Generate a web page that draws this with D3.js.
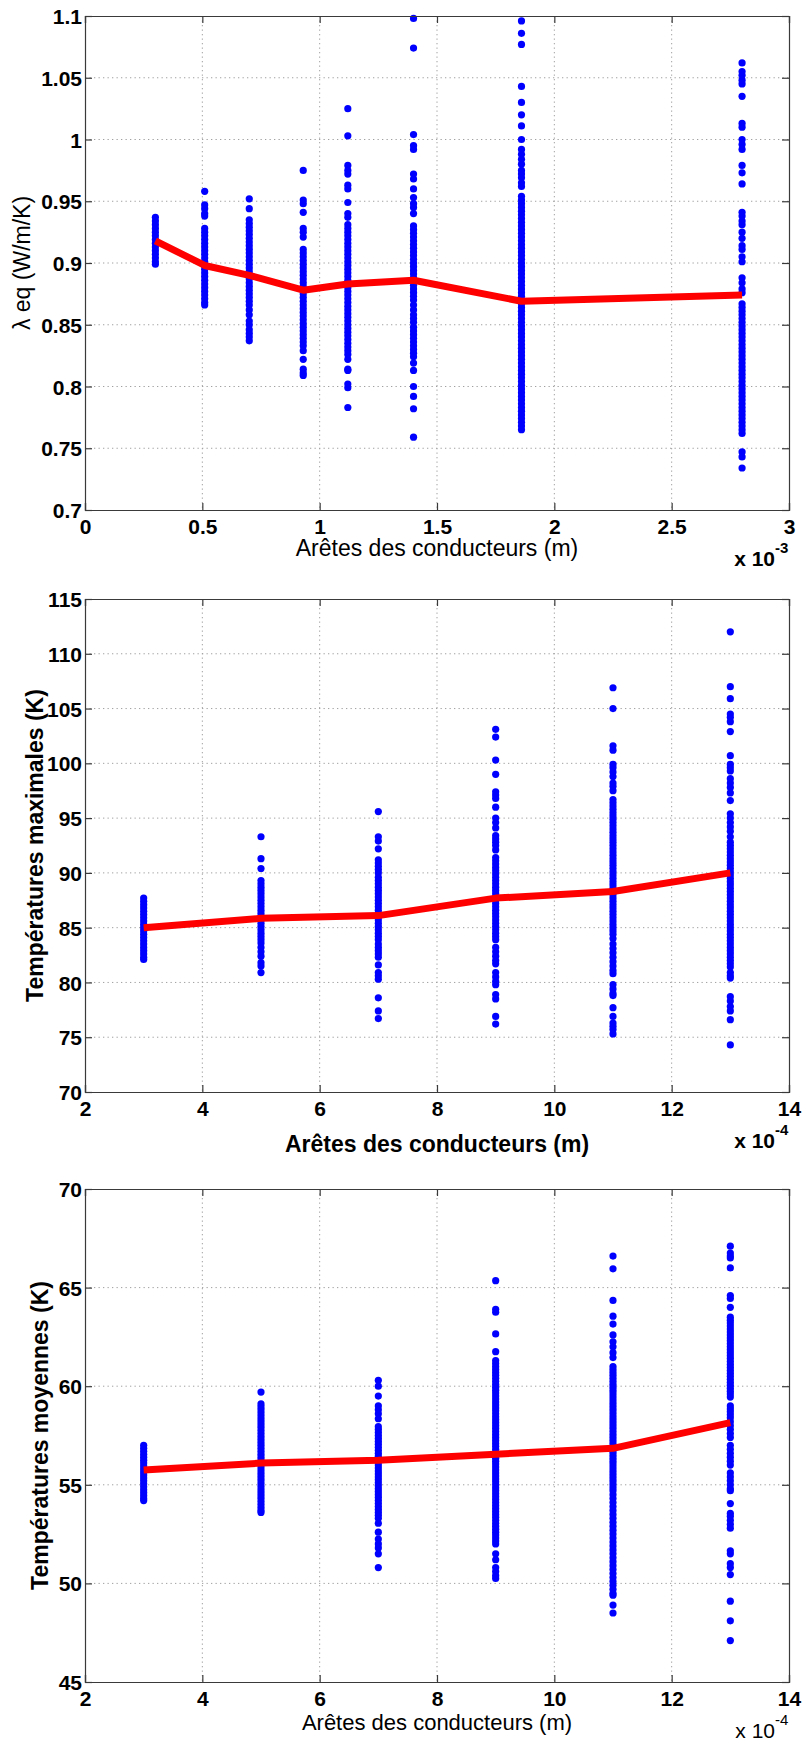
<!DOCTYPE html>
<html><head><meta charset="utf-8">
<script src="https://cdn.jsdelivr.net/npm/d3@7/dist/d3.min.js"></script>
<style>
html,body{margin:0;padding:0;background:#fff;}
text{font-family:"Liberation Sans",Arial,Helvetica,sans-serif;}
</style></head>
<body>
<svg id="fig" width="806" height="1745"></svg>
<script>
// ---------- Panel 1 : lambda eq vs edge (x 1e-3 m) ----------
const lamX = [0.30e-3, 0.51e-3, 0.70e-3, 0.93e-3, 1.12e-3, 1.40e-3, 1.86e-3, 2.80e-3];
const lamMean = [0.918, 0.898, 0.890, 0.878, 0.883, 0.886, 0.869, 0.874];
const lamPts = [
 [0.937,0.934,0.931,0.928,0.925,0.922,0.919,0.916,0.913,0.910,0.907,0.904,0.901,0.899],
 [0.958,0.947,0.944,0.940,0.938,0.928,0.925,0.922,0.919,0.916,0.913,0.910,0.907,0.904,0.901,0.898,0.895,0.892,0.889,0.886,0.883,0.880,0.877,0.874,0.871,0.868,0.866],
 [0.952,0.944,0.935,0.932,0.929,0.926,0.923,0.920,0.917,0.914,0.911,0.908,0.905,0.902,0.899,0.896,0.893,0.890,0.887,0.884,0.881,0.878,0.875,0.872,0.869,0.866,0.862,0.858,0.853,0.850,0.846,0.843,0.840,0.837],
 [0.975,0.951,0.948,0.941,0.928,0.925,0.921,0.911,0.908,0.905,0.902,0.899,0.896,0.893,0.890,0.887,0.884,0.881,0.878,0.875,0.872,0.869,0.866,0.863,0.860,0.857,0.854,0.851,0.848,0.845,0.842,0.839,0.836,0.833,0.829,0.822,0.814,0.811,0.809],
 [1.025,1.003,0.979,0.975,0.972,0.963,0.960,0.949,0.940,0.937,0.931,0.928,0.925,0.922,0.919,0.916,0.913,0.910,0.907,0.904,0.901,0.898,0.895,0.892,0.889,0.886,0.883,0.880,0.877,0.874,0.871,0.868,0.865,0.862,0.859,0.856,0.853,0.850,0.847,0.844,0.841,0.838,0.835,0.832,0.829,0.826,0.822,0.814,0.813,0.802,0.799,0.783],
 [1.098,1.074,1.004,0.995,0.992,0.972,0.968,0.960,0.953,0.948,0.945,0.940,0.930,0.927,0.924,0.921,0.918,0.915,0.912,0.909,0.906,0.903,0.900,0.897,0.894,0.891,0.888,0.885,0.882,0.879,0.876,0.873,0.870,0.866,0.862,0.858,0.855,0.852,0.848,0.845,0.842,0.839,0.836,0.833,0.830,0.827,0.824,0.819,0.813,0.800,0.792,0.782,0.759],
 [1.096,1.086,1.077,1.043,1.030,1.020,1.011,1.000,0.992,0.988,0.984,0.980,0.975,0.972,0.969,0.965,0.962,0.954,0.951,0.948,0.945,0.942,0.939,0.936,0.933,0.930,0.927,0.924,0.921,0.918,0.915,0.912,0.909,0.906,0.903,0.900,0.897,0.894,0.891,0.888,0.885,0.882,0.879,0.876,0.873,0.870,0.867,0.864,0.861,0.858,0.855,0.852,0.849,0.846,0.843,0.840,0.837,0.834,0.831,0.828,0.825,0.822,0.819,0.816,0.813,0.810,0.807,0.804,0.801,0.798,0.795,0.792,0.789,0.786,0.783,0.780,0.777,0.774,0.771,0.768,0.765],
 [1.062,1.055,1.052,1.048,1.045,1.035,1.013,1.010,1.000,0.996,0.992,0.979,0.973,0.964,0.941,0.938,0.934,0.931,0.925,0.920,0.914,0.911,0.905,0.901,0.888,0.884,0.879,0.876,0.867,0.864,0.861,0.858,0.855,0.852,0.849,0.846,0.843,0.840,0.837,0.834,0.831,0.828,0.825,0.822,0.819,0.816,0.813,0.810,0.807,0.804,0.801,0.798,0.795,0.792,0.789,0.786,0.783,0.780,0.777,0.774,0.771,0.768,0.765,0.762,0.747,0.743,0.734]
];
const lamXTicks = [0, 0.5e-3, 1.0e-3, 1.5e-3, 2.0e-3, 2.5e-3, 3.0e-3];
const lamXTickLabels = ["0","0.5","1","1.5","2","2.5","3"];
const lamYTicks = [0.7,0.75,0.8,0.85,0.9,0.95,1.0,1.05,1.1];
const lamYTickLabels = ["0.7","0.75","0.8","0.85","0.9","0.95","1","1.05","1.1"];

// ---------- Panel 2 : max temperatures vs edge (x 1e-4 m) ----------
const tX = [3e-4, 5e-4, 7e-4, 9e-4, 11e-4, 13e-4];
const tmaxMean = [85.0, 85.85, 86.1, 87.7, 88.3, 90.0];
const tmaxPts = [
 [87.7,87.4,87.1,86.8,86.5,86.2,85.9,85.6,85.3,85.0,84.7,84.4,84.1,83.8,83.5,83.2,82.9,82.6,82.3,82.1],
 [93.3,91.3,90.4,89.3,89.0,88.7,88.4,88.1,87.8,87.5,87.2,86.9,86.6,86.3,86.0,85.7,85.4,85.1,84.8,84.5,84.2,83.9,83.6,83.2,82.8,82.4,81.8,81.5,80.9],
 [95.6,93.3,92.9,92.2,91.2,90.9,90.6,90.3,90.0,89.6,89.3,89.0,88.7,88.4,88.1,87.8,87.5,87.2,86.9,86.6,86.3,86.0,85.7,85.4,85.1,84.8,84.5,84.2,83.9,83.5,83.2,82.9,82.6,82.3,81.6,80.9,80.6,80.3,78.6,77.4,76.7],
 [103.1,102.4,100.3,99.0,97.4,97.1,96.8,96.0,95.0,94.6,94.1,93.4,93.1,92.8,92.5,92.1,91.4,91.1,90.8,90.5,90.2,89.9,89.6,89.3,89.0,88.7,88.4,88.1,87.8,87.5,87.2,86.9,86.6,86.3,86.0,85.7,85.4,85.1,84.8,84.5,84.2,83.9,83.2,82.8,82.4,82.0,81.7,80.9,80.5,80.1,79.8,78.9,78.5,76.9,76.2],
 [106.9,105.0,101.6,101.2,99.9,99.6,99.2,98.8,98.2,97.9,97.5,96.7,96.4,96.1,95.8,95.5,95.2,94.9,94.6,94.3,94.0,93.7,93.4,93.1,92.8,92.5,92.2,91.9,91.6,91.3,91.0,90.7,90.4,90.1,89.8,89.5,89.2,88.9,88.6,88.3,88.0,87.7,87.4,87.1,86.8,86.5,86.2,85.9,85.6,85.3,85.0,84.7,84.4,84.0,83.5,83.1,82.7,82.3,81.9,81.5,81.1,80.8,79.8,79.4,79.0,78.8,77.7,76.9,76.3,76.0,75.7,75.3],
 [112.0,107.0,105.9,104.5,104.2,103.8,102.9,100.7,99.9,99.6,99.3,98.6,98.2,97.8,97.3,96.6,95.4,95.0,94.6,94.2,93.8,93.3,92.8,92.5,92.2,91.9,91.6,91.3,91.0,90.7,90.4,90.1,89.8,89.5,89.2,88.9,88.6,88.3,88.0,87.7,87.4,87.1,86.8,86.5,86.2,85.9,85.6,85.3,85.0,84.7,84.4,84.1,83.8,83.5,83.2,82.9,82.6,82.3,82.0,81.7,81.4,80.9,80.6,80.4,78.7,78.3,77.8,77.4,76.6,74.3]
];
const tXTicks = [2e-4, 4e-4, 6e-4, 8e-4, 10e-4, 12e-4, 14e-4];
const tXTickLabels = ["2","4","6","8","10","12","14"];
const tmaxYTicks = [70,75,80,85,90,95,100,105,110,115];

// ---------- Panel 3 : mean temperatures vs edge (x 1e-4 m) ----------
const tmoyMean = [55.75, 56.1, 56.25, 56.55, 56.85, 58.15];
const tmoyPts = [
 [57.0,56.85,56.7,56.55,56.4,56.25,56.1,55.95,55.8,55.65,55.5,55.35,55.2,55.05,54.9,54.75,54.6,54.45,54.3,54.2],
 [59.7,59.1,58.95,58.8,58.65,58.5,58.35,58.2,58.05,57.9,57.75,57.6,57.45,57.3,57.15,57.0,56.85,56.7,56.55,56.4,56.25,56.1,55.95,55.8,55.65,55.5,55.35,55.2,55.05,54.9,54.75,54.6,54.45,54.3,54.15,54.0,53.85,53.7,53.6],
 [60.3,60.0,59.5,59.0,58.8,58.6,58.35,57.95,57.8,57.65,57.5,57.35,57.2,57.05,56.9,56.75,56.6,56.45,56.3,56.15,56.0,55.85,55.7,55.55,55.4,55.25,55.1,54.95,54.8,54.65,54.5,54.35,54.2,54.05,53.9,53.75,53.6,53.45,53.3,53.05,52.6,52.25,52.0,51.8,51.5,50.8],
 [65.35,63.9,63.75,62.65,61.75,61.3,61.15,61.0,60.85,60.7,60.55,60.4,60.25,60.1,59.95,59.8,59.65,59.5,59.35,59.2,59.05,58.9,58.75,58.6,58.45,58.3,58.15,58.0,57.85,57.7,57.55,57.4,57.25,57.1,56.95,56.8,56.65,56.5,56.35,56.2,56.05,55.9,55.75,55.6,55.45,55.3,55.15,55.0,54.85,54.7,54.55,54.4,54.25,54.1,53.95,53.8,53.65,53.5,53.35,53.2,53.05,52.9,52.75,52.6,52.45,52.3,52.15,52.0,51.5,51.2,50.8,50.6,50.4,50.25],
 [66.6,65.95,64.35,63.55,63.15,62.6,62.25,62.0,61.7,61.45,61.0,60.85,60.7,60.55,60.4,60.25,60.1,59.95,59.8,59.65,59.5,59.35,59.2,59.05,58.9,58.75,58.6,58.45,58.3,58.15,58.0,57.85,57.7,57.55,57.4,57.25,57.1,56.95,56.8,56.65,56.5,56.35,56.2,56.05,55.9,55.75,55.6,55.45,55.3,55.15,55.0,54.85,54.7,54.5,54.3,54.1,53.9,53.7,53.5,53.3,53.1,52.9,52.7,52.5,52.3,52.1,51.9,51.7,51.5,51.3,51.1,50.9,50.7,50.5,50.3,50.1,49.9,49.7,49.5,49.4,48.9,48.5],
 [67.1,66.75,66.6,66.5,66.0,64.6,64.45,64.0,63.5,63.35,63.2,63.05,62.9,62.75,62.6,62.45,62.3,62.15,62.0,61.85,61.7,61.55,61.4,61.25,61.1,60.95,60.8,60.65,60.5,60.35,60.2,60.05,59.9,59.75,59.6,59.45,59.0,58.85,58.7,58.55,58.4,58.2,58.0,57.8,57.6,57.4,57.0,56.8,56.6,56.4,56.2,56.0,55.6,55.4,55.2,55.0,54.8,54.7,54.05,53.55,53.4,53.2,53.0,52.8,51.65,51.5,51.0,50.8,50.45,49.1,48.1,47.1]
];
const tmoyYTicks = [45,50,55,60,65,70];

const xLabelText = "Arêtes des conducteurs (m)";

// ---------- drawing ----------
const svg = d3.select("#fig");
const L = 85, R = 789;

function panel(o) {
  const g = svg.append("g");
  const x = d3.scaleLinear().domain(o.xDomain).range([L, R]);
  const y = d3.scaleLinear().domain(o.yDomain).range([o.bottom, o.top]);

  // grid
  g.append("g").selectAll("line").data(o.yTicks.slice(1, -1)).join("line")
    .attr("x1", L).attr("x2", R).attr("y1", d => y(d)).attr("y2", d => y(d))
    .attr("stroke", "#a0a0a0").attr("stroke-width", 1).attr("stroke-dasharray", "1.3,3.2");
  g.append("g").selectAll("line").data(o.xTicks.slice(1, -1)).join("line")
    .attr("y1", o.top).attr("y2", o.bottom).attr("x1", d => x(d)).attr("x2", d => x(d))
    .attr("stroke", "#a0a0a0").attr("stroke-width", 1).attr("stroke-dasharray", "1.3,3.2");

  // scatter
  const pts = [];
  o.pts.forEach((col, i) => col.forEach(v => pts.push([o.xs[i], v])));
  g.append("g").selectAll("circle").data(pts).join("circle")
    .attr("cx", d => x(d[0])).attr("cy", d => y(d[1])).attr("r", 3.6).attr("fill", "#0000ff");

  // mean line
  g.append("path").datum(o.xs.map((v, i) => [v, o.mean[i]]))
    .attr("d", d3.line().x(d => x(d[0])).y(d => y(d[1])))
    .attr("fill", "none").attr("stroke", "#ff0000").attr("stroke-width", 7)
    .attr("stroke-linejoin", "round");

  // axes (MATLAB style: inward ticks on all sides, box)
  const tk = 7;
  const axB = d3.axisBottom(x).tickValues(o.xTicks).tickSize(-tk).tickPadding(tk + 8).tickFormat((d, i) => o.xTickLabels[i]);
  const axT = d3.axisTop(x).tickValues(o.xTicks).tickSize(-tk).tickFormat("");
  const axLf = d3.axisLeft(y).tickValues(o.yTicks).tickSize(-tk).tickPadding(3).tickFormat((d, i) => o.yTickLabels[i]);
  const axRt = d3.axisRight(y).tickValues(o.yTicks).tickSize(-tk).tickFormat("");
  const style = sel => {
    sel.select(".domain").attr("stroke", "#3a3a3a").attr("stroke-width", 1.2);
    sel.selectAll(".tick line").attr("stroke", "#3a3a3a").attr("stroke-width", 1.2);
    sel.selectAll(".tick text").attr("fill", "#000").attr("font-size", 21).attr("font-weight", "bold")
      .attr("font-family", '"Liberation Sans",Arial,sans-serif');
  };
  g.append("g").attr("transform", `translate(0,${o.bottom})`).call(axB).call(style)
    .selectAll(".tick text").attr("dy", "0.42em");
  g.append("g").attr("transform", `translate(0,${o.top})`).call(axT).call(style);
  g.append("g").attr("transform", `translate(${L},0)`).call(axLf).call(style)
    .selectAll(".tick text").attr("dy", "0.36em");
  g.append("g").attr("transform", `translate(${R},0)`).call(axRt).call(style);

  // x label
  g.append("text").attr("x", (L + R) / 2).attr("y", o.bottom + o.xlabOff)
    .attr("text-anchor", "middle").attr("font-size", o.xlabSize).attr("font-weight", o.xlabWeight)
    .text(xLabelText);
  // exponent
  g.append("text").attr("x", 775).attr("y", o.bottom + 56).attr("text-anchor", "end")
    .attr("font-size", 21).attr("font-weight", o.expWeight).text("x 10");
  g.append("text").attr("x", 775).attr("y", o.bottom + 43).attr("text-anchor", "start")
    .attr("font-size", 15).attr("font-weight", o.expWeight).text(o.expText);
  // y label
  g.append("text").attr("transform", `translate(${o.ylabX},${(o.top + o.bottom) / 2}) rotate(-90)`)
    .attr("text-anchor", "middle").attr("font-size", o.ylabSize).attr("font-weight", o.ylabWeight)
    .text(o.ylab);
}

panel({top: 16, bottom: 510, xDomain: [0, 3e-3], yDomain: [0.7, 1.1],
  xs: lamX, pts: lamPts, mean: lamMean,
  xTicks: lamXTicks, xTickLabels: lamXTickLabels, yTicks: lamYTicks, yTickLabels: lamYTickLabels,
  xlabOff: 46, xlabSize: 23, xlabWeight: "normal", expText: "-3", expWeight: "bold",
  ylab: "λ eq (W/m/K)", ylabX: 30, ylabSize: 23, ylabWeight: "normal"});

panel({top: 599, bottom: 1092, xDomain: [2e-4, 14e-4], yDomain: [70, 115],
  xs: tX, pts: tmaxPts, mean: tmaxMean,
  xTicks: tXTicks, xTickLabels: tXTickLabels, yTicks: tmaxYTicks, yTickLabels: tmaxYTicks.map(String),
  xlabOff: 60, xlabSize: 23, xlabWeight: "bold", expText: "-4", expWeight: "bold",
  ylab: "Températures maximales (K)", ylabX: 43, ylabSize: 23, ylabWeight: "bold"});

panel({top: 1189, bottom: 1682, xDomain: [2e-4, 14e-4], yDomain: [45, 70],
  xs: tX, pts: tmoyPts, mean: tmoyMean,
  xTicks: tXTicks, xTickLabels: tXTickLabels, yTicks: tmoyYTicks, yTickLabels: tmoyYTicks.map(String),
  xlabOff: 48, xlabSize: 22, xlabWeight: "normal", expText: "-4", expWeight: "normal",
  ylab: "Températures moyennes (K)", ylabX: 48, ylabSize: 23, ylabWeight: "bold"});
</script>
</body></html>
